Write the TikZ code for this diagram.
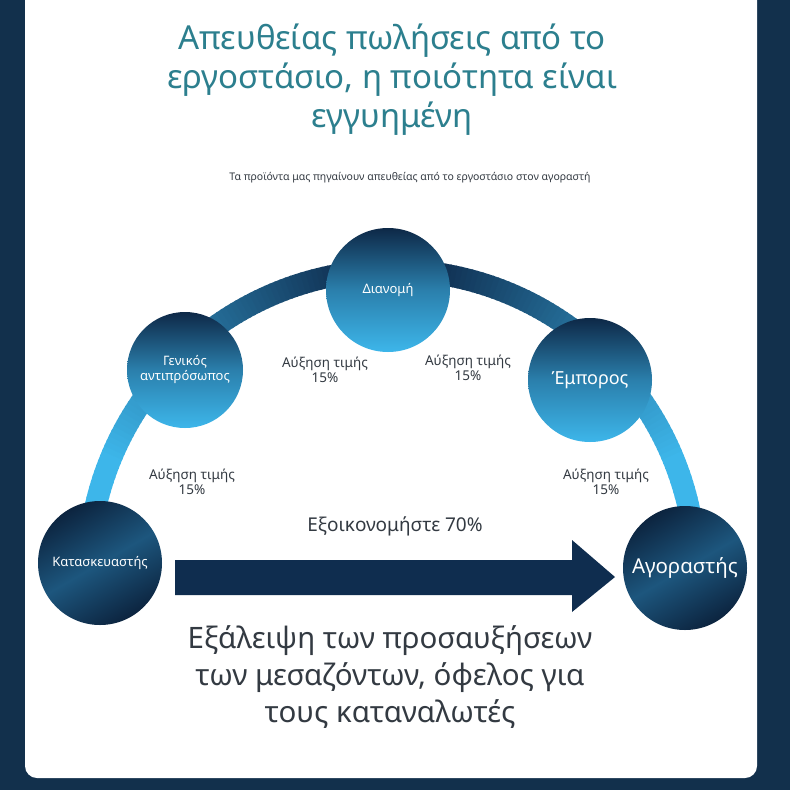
\documentclass[tikz,border=0pt]{standalone}
\usepackage{fontspec}
\setmainfont{Noto Sans}
\definecolor{navy}{HTML}{0F2D4F}
\definecolor{bg}{HTML}{12304C}
\definecolor{lblue}{HTML}{3DB6EA}
\definecolor{teal}{HTML}{2C7F8E}
\definecolor{txt}{HTML}{333A42}
\tikzset{
  blueball/.style={circle,minimum size=#1,inner sep=0pt,top color=navy!90!black,bottom color=lblue,middle color=lblue!60!navy,text=white,align=center,font=\fontsize{13}{15}\selectfont},
  darkball/.style={circle,minimum size=#1,inner sep=0pt,top color=navy!80!black,bottom color=navy!80!black,middle color=navy!70!lblue,shading angle=30,text=white,align=center,font=\fontsize{13}{15}\selectfont},
  lbl/.style={text=txt,align=center,font=\fontsize{13.5}{15}\selectfont}
}
\begin{document}
\begin{tikzpicture}[x=1pt,y=-1pt]
\useasboundingbox (0,0) rectangle (790,790);
\fill[bg] (0,0) rectangle (790,790);
\fill[white,rounded corners=12pt] (25,-20) rectangle (757,778);
% title
\node[text=teal,align=center,font=\fontsize{33}{39}\selectfont] (title) at (392,80) {Απευθείας πωλήσεις από το\\εργοστάσιο, η ποιότητα είναι\\εγγυημένη};
\node[text=txt,font=\fontsize{10.5}{12}\selectfont] (sub) at (410,178) {Τα προϊόντα μας πηγαίνουν απευθείας από το εργοστάσιο στον αγοραστή};
% arc
\foreach \i in {0,...,77}{
  \pgfmathsetmacro{\a}{168-\i}
  \pgfmathsetmacro{\p}{max(0,min(100,(\i-10)*100/60))}
  \draw[line width=22pt,color=navy!\p!lblue] (392,574) ++(\a:304 and -304) arc[start angle=\a,end angle=\a-1.3,radius=304,y radius=-304];
}
\foreach \i in {0,...,77}{
  \pgfmathsetmacro{\a}{12+\i}
  \pgfmathsetmacro{\p}{max(0,min(100,(\i-10)*100/60))}
  \draw[line width=22pt,color=navy!\p!lblue] (392,574) ++(\a:304 and -304) arc[start angle=\a,end angle=\a+1.3,radius=304,y radius=-304];
}
% arrow
\fill[navy] (175,560) -- (572,560) -- (572,540) -- (615,577) -- (572,612) -- (572,595) -- (175,595) -- cycle;
\node[lbl,font=\fontsize{19}{21}\selectfont] (save) at (395,526) {Εξοικονομήστε 70\%};
% nodes
\node[darkball=124pt] (m) at (100,563) {Κατασκευαστής};
\node[blueball=116pt] (g) at (185,370) {Γενικός\\αντιπρόσωπος};
\node[blueball=124pt] (d) at (388,290) {Διανομή};
\node[blueball=124pt,font=\fontsize{18}{20}\selectfont] (e) at (590,380) {Έμπορος};
\node[darkball=124pt,font=\fontsize{20.5}{22}\selectfont] (b) at (685,568) {Αγοραστής};
% labels
\node[lbl] (l1) at (192,482) {Αύξηση τιμής\\15\%};
\node[lbl] (l2) at (325,370) {Αύξηση τιμής\\15\%};
\node[lbl] (l3) at (468,368) {Αύξηση τιμής\\15\%};
\node[lbl] (l4) at (606,482) {Αύξηση τιμής\\15\%};
\node[text=txt,align=center,font=\fontsize{29.5}{37}\selectfont] (bot) at (390,677) {Εξάλειψη των προσαυξήσεων\\των μεσαζόντων, όφελος για\\τους καταναλωτές};
\end{tikzpicture}
\end{document}
